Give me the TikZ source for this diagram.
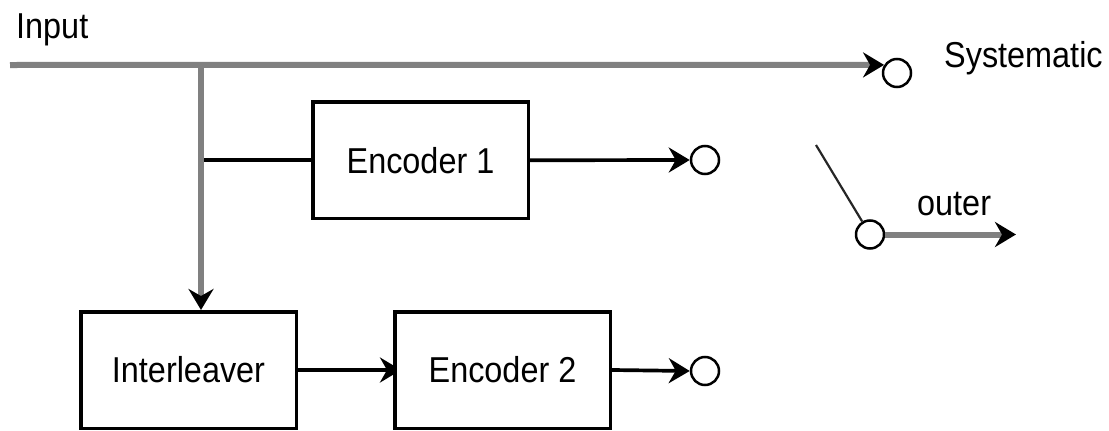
\documentclass[tikz,border=0pt]{standalone}
\usepackage{fontspec}
\setmainfont{Liberation Sans}
\usetikzlibrary{arrows.meta,backgrounds}
\definecolor{busgray}{HTML}{808080}
\newcommand\narrowtext[1]{\scalebox{0.9}[1]{#1}}
\begin{document}
\begin{tikzpicture}[x=1pt,y=-1pt,
  font=\fontsize{36}{40}\selectfont,
  >={Stealth[length=21pt,width=25pt,inset=7pt,color=black]},
  block/.style={draw=black,line width=3.5pt,fill=white,
    minimum width=215.5pt,minimum height=116.5pt,inner sep=0pt},
  port/.style={circle,draw=black,line width=2.5pt,fill=white,
    minimum size=28pt,inner sep=0pt},
  label/.style={inner sep=0pt,anchor=base west},
  bus/.style={draw=busgray,line width=6pt},
  wire/.style={draw=black,line width=3.7pt},
  lever/.style={draw=black!85,line width=2.2pt},
]
\useasboundingbox (0,0) rectangle (1109,431);

% blocks
\node[block] (enc1) at (420.5,160.25) {\narrowtext{Encoder 1}};
\node[block] (il)   at (188.5,370)    {\narrowtext{Interleaver}};
\node[block] (enc2) at (502.5,370)    {\narrowtext{Encoder 2}};

% output terminals and switch pivot
\node[port] (sys) at (897,73)    {};
\node[port] (o1)  at (705,160)   {};
\node[port] (o2)  at (705,371)   {};
\node[port] (sw)  at (870,234.5) {};

\coordinate (start) at (10,65);
\coordinate (split) at (201,65);
\coordinate (leverend) at (816,145);
\coordinate (out) at (1016,234.5);

% labels
\node[label] (tin)  at (16,38)  {\narrowtext{Input}};
\node[label] (tsys) at (944,67) {\narrowtext{Systematic}};
\node[label] (tout) at (917,215){\narrowtext{outer}};

% connectors
\begin{pgfonlayer}{background}
  \draw[wire] (split |- enc1.west) -- (enc1.west);
  \draw[wire,->] (il.east) -- ([xshift=8pt]enc2.west);
\end{pgfonlayer}
\draw[bus,->] (start) -- (sys.148);
\draw[bus,->] (split) -- (split |- il.north);
\draw[wire,->] (enc1.east) -- (o1.west);
\draw[wire,->] (enc2.east) -- (o2.west);
\draw[bus,->] (sw.east) -- (out);
\draw[lever] (leverend) -- (sw.121);
\end{tikzpicture}
\end{document}
